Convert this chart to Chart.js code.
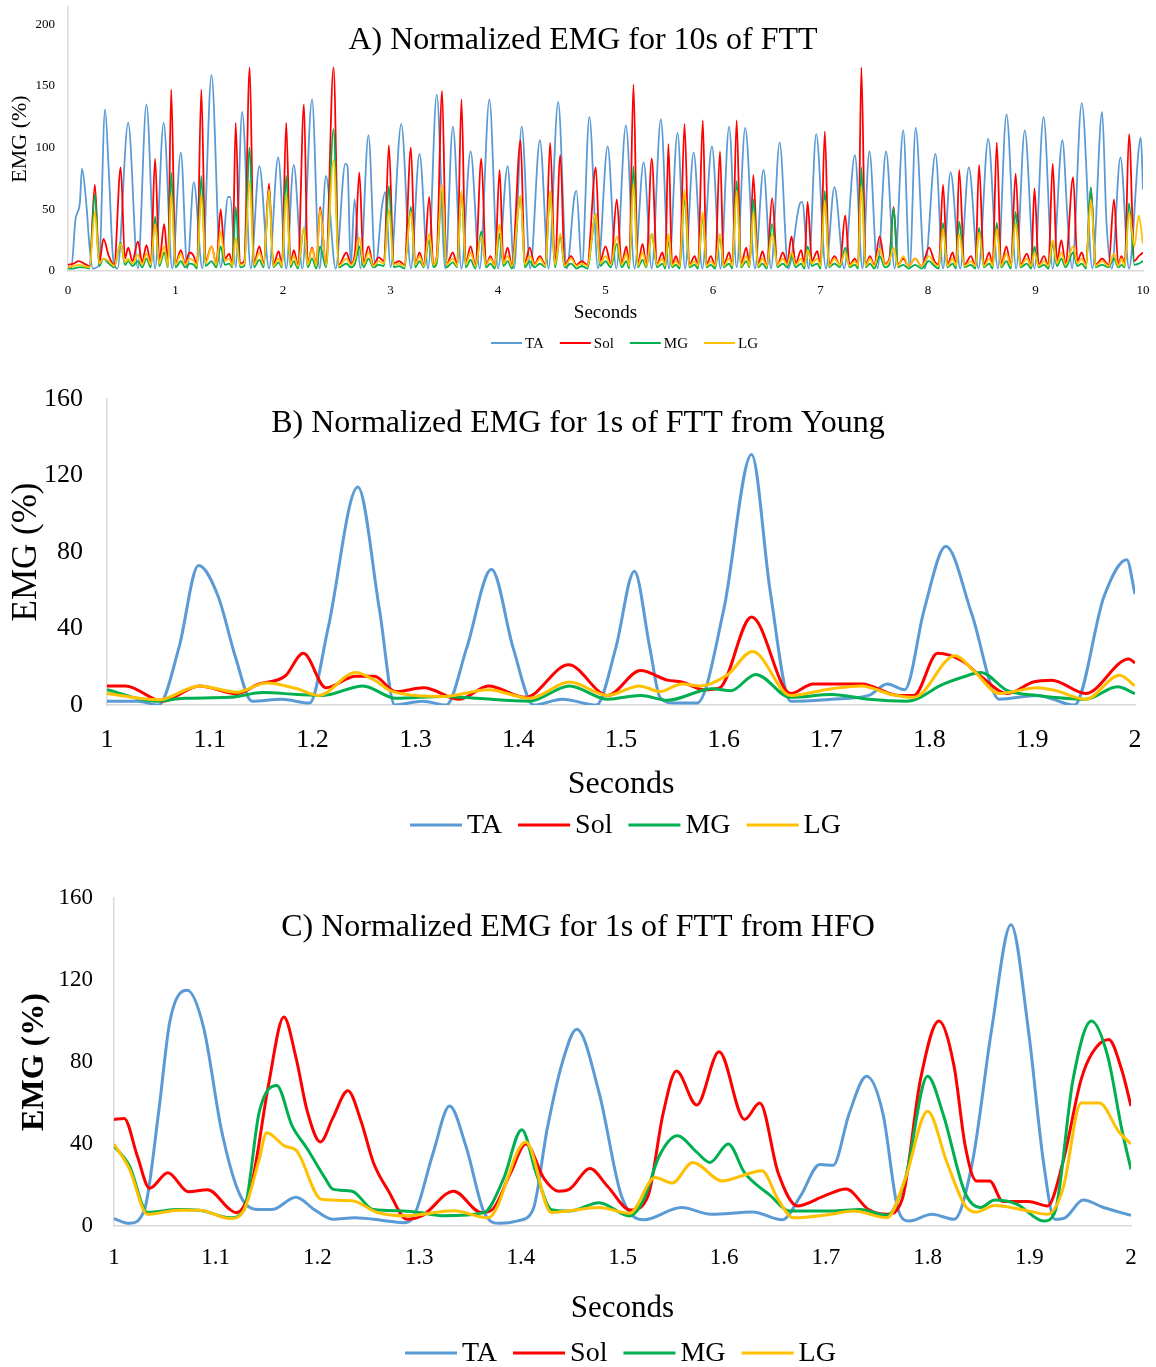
<!DOCTYPE html>
<html>
<head>
<meta charset="utf-8">
<title>Normalized EMG during FTT</title>
<script src="https://cdn.jsdelivr.net/npm/chart.js@4.4.1/dist/chart.umd.min.js"></script>
<style>
  html, body { margin: 0; padding: 0; background: #fff; overflow: hidden; }
  .panel { position: absolute; left: 0; width: 1156px; }
</style>
</head>
<body>
<div class="panel" style="top:0px;height:360px"><canvas id="chartA" width="1156" height="360"></canvas></div>
<div class="panel" style="top:380px;height:470px"><canvas id="chartB" width="1156" height="470"></canvas></div>
<div class="panel" style="top:880px;height:487px"><canvas id="chartC" width="1156" height="487"></canvas></div>
<script>
// ---- Panel A : 10 s of FTT (peaks and troughs) ----
const taA = [
  [0,4],[0.03,2],[0.07,42],[0.11,55],[0.13,83],[0.17,55],[0.20,20],[0.23,2],[0.29,5],[0.345,131],[0.38,80],[0.42,10],[0.46,2],[0.56,120],[0.65,2],[0.73,135],[0.81,2],[0.89,120],[0.97,2],
  [1.05,96],[1.11,2],[1.17,72],[1.25,2],[1.335,159],[1.42,3],[1.49,60],[1.51,60],[1.56,3],[1.62,129],[1.70,2],[1.78,85],[1.87,2],[1.955,92],
  [2.03,2],[2.10,86],[2.18,2],[2.27,139],[2.34,2],[2.40,77],[2.49,2],[2.58,87],[2.60,85],[2.63,3],[2.665,58],[2.72,2],[2.795,110],[2.86,3],[2.92,52],[2.95,64],
  [3.00,3],[3.10,119],[3.19,2],[3.27,95],[3.35,2],[3.43,143],[3.51,2],[3.58,117],[3.66,2],[3.745,97],[3.83,2],[3.92,139],
  [4.00,2],[4.09,85],[4.15,2],[4.22,117],[4.30,2],[4.39,106],[4.47,2],[4.56,137],[4.64,2],[4.71,60],[4.73,65],[4.78,3],[4.85,125],[4.93,2],
  [5.02,101],[5.10,2],[5.19,118],[5.27,2],[5.355,88],[5.43,2],[5.515,123],[5.59,2],[5.67,112],[5.74,2],[5.82,96],[5.90,2],[5.99,101],
  [6.07,2],[6.15,117],[6.22,3],[6.30,116],[6.39,2],[6.47,82],[6.54,2],[6.62,104],[6.70,2],[6.81,55],[6.83,56],[6.89,2],[6.96,111],
  [7.05,2],[7.13,68],[7.22,2],[7.32,94],[7.39,2],[7.455,97],[7.53,2],[7.61,97],[7.69,2],[7.77,114],[7.83,3],[7.885,116],[7.97,2],
  [8.07,95],[8.14,2],[8.21,80],[8.30,2],[8.38,84],[8.47,2],[8.56,107],[8.65,2],[8.73,127],[8.82,2],[8.90,114],[8.99,2],
  [9.075,125],[9.16,2],[9.25,106],[9.30,40],[9.34,2],[9.43,136],[9.53,2],[9.62,129],[9.66,40],[9.71,2],[9.79,92],[9.87,2],[9.98,108],[10.0,66]
];

// shared time points for Sol / MG / LG in panel A
const calfTimesA = [
  0, 0.05, 0.10, 0.15, 0.20, 0.25, 0.29, 0.33, 0.38, 0.43, 0.49, 0.53, 0.56, 0.60, 0.65, 0.69, 0.73, 0.77, 0.81, 0.85, 0.895, 0.93, 0.96,
  1.00, 1.05, 1.09, 1.13, 1.17, 1.20, 1.24, 1.28, 1.335, 1.38, 1.42, 1.46, 1.50, 1.53, 1.56, 1.60, 1.64, 1.69, 1.73, 1.78, 1.82, 1.87, 1.91, 1.96, 1.99,
  2.03, 2.07, 2.10, 2.14, 2.195, 2.23, 2.27, 2.31, 2.345, 2.40, 2.47, 2.52, 2.59, 2.63, 2.67, 2.71, 2.75, 2.795, 2.84, 2.89, 2.94, 2.985,
  3.03, 3.08, 3.13, 3.19, 3.23, 3.27, 3.31, 3.36, 3.40, 3.43, 3.48, 3.52, 3.58, 3.62, 3.66, 3.70, 3.745, 3.79, 3.845, 3.89, 3.93, 3.97,
  4.015, 4.05, 4.09, 4.13, 4.21, 4.25, 4.295, 4.34, 4.39, 4.44, 4.485, 4.53, 4.58, 4.62, 4.68, 4.73, 4.78, 4.83, 4.91, 4.95,
  5.00, 5.05, 5.105, 5.15, 5.195, 5.22, 5.26, 5.30, 5.345, 5.38, 5.43, 5.48, 5.53, 5.555, 5.585, 5.62, 5.655, 5.69, 5.735, 5.78, 5.83, 5.86, 5.905, 5.94, 5.98,
  6.02, 6.065, 6.10, 6.15, 6.18, 6.22, 6.26, 6.31, 6.34, 6.375, 6.42, 6.46, 6.50, 6.55, 6.60, 6.65, 6.69, 6.73, 6.77, 6.82, 6.85, 6.88, 6.92, 6.97,
  7.00, 7.04, 7.08, 7.13, 7.18, 7.23, 7.27, 7.32, 7.35, 7.38, 7.42, 7.46, 7.50, 7.55, 7.60, 7.64, 7.68, 7.72, 7.77, 7.82, 7.88, 7.94,
  8.01, 8.06, 8.10, 8.14, 8.18, 8.23, 8.26, 8.29, 8.34, 8.40, 8.44, 8.475, 8.52, 8.57, 8.60, 8.64, 8.68, 8.73, 8.77, 8.815, 8.86, 8.92, 8.96, 8.99,
  9.03, 9.08, 9.12, 9.16, 9.20, 9.24, 9.28, 9.35, 9.39, 9.43, 9.47, 9.515, 9.56, 9.62, 9.68, 9.73, 9.77, 9.80, 9.83, 9.87, 9.92, 9.96, 10.0
];
const solA = [
  5,6,8,6,4, 70,6,26,12,5, 84,10,19,8,24, 7,21,6,91,8, 38,5,147,
  6,17,6,15,12, 4,147,8,20,6, 50,10,14,5,120, 6,8,165,6,20, 6,71,5,16,5,
  120,6,17,5,135, 6,19,5,52,6, 165,5,15,6,15, 80,6,20,5,11, 8,102,
  6,8,5,100,5, 15,5,60,5,12, 146,5,15,5,139, 6,20,5,91,5, 12,4,
  82,8,19,4,106, 6,19,6,12,5, 104,6,94,5,12, 5,8,5,84,8,
  20,6,58,6,20, 5,151,5,22,5, 91,6,15,5,103, 5,12,4,119,5, 12,4,122,5,12,
  4,97,5,15,4, 122,5,19,5,78, 5,16,4,59,5, 15,6,28,6,17, 5,56,8,16,
  4,113,5,12,5, 45,5,10,4,165, 5,12,5,28,6, 10,52,5,10,4, 10,4,
  19,8,5,70,5, 15,4,82,5,12, 4,86,5,15,4, 104,5,20,4,79, 5,14,4,67,
  5,12,4,87,8, 25,6,76,8,15, 5,67,5,10,5, 58,5,12,5,111, 8,12,15
];
const mgA = [
  2,2,3,3,2, 62,4,10,6,3, 23,5,8,4,8, 3,10,3,44,4, 15,3,80,
  3,8,3,6,5, 2,77,4,8,3, 20,5,6,3,52, 3,4,100,3,9, 3,66,3,7,3,
  77,3,8,2,35, 3,10,2,20,3, 115,3,6,3,6, 20,3,10,3,5, 4,69,
  3,4,2,52,3, 8,3,25,3,6, 68,3,7,3,64, 3,9,2,32,3, 6,2,
  30,4,8,2,60, 3,8,3,6,3, 64,3,28,3,6, 2,4,2,46,4,
  8,3,22,3,8, 2,85,3,9,3, 30,3,6,2,25, 3,5,2,60,3, 5,2,45,3,5,
  2,28,3,6,2, 73,3,8,3,58, 3,6,2,38,3, 6,3,12,3,6, 2,20,4,6,
  2,65,3,6,3, 19,3,5,2,84, 3,6,2,12,3, 5,51,3,5,2, 5,2,
  8,4,2,39,3, 6,2,40,3,5, 2,35,3,6,2, 39,3,8,2,48, 3,6,2,20,
  3,5,2,22,4, 10,3,15,4,6, 2,68,3,5,3, 10,3,5,3,55, 5,6,8
];
const lgA = [
  3,4,5,4,3, 48,6,10,8,4, 22,7,10,6,13, 5,14,5,38,6, 20,4,63,
  5,14,5,10,8, 4,62,6,20,5, 32,8,10,4,27, 5,6,73,5,15, 5,66,4,10,4,
  63,5,12,4,35, 5,18,4,50,5, 90,4,10,5,10, 27,5,15,4,8, 6,50,
  5,6,4,48,5, 12,4,30,5,10, 70,5,10,4,65, 5,15,4,28,5, 10,4,
  38,6,12,4,61, 5,12,5,10,4, 65,5,30,4,10, 4,6,4,46,6,
  12,5,28,5,14, 4,71,4,15,4, 30,5,10,4,30, 4,8,4,66,4, 8,4,48,4,8,
  4,30,4,10,4, 65,4,12,4,48, 4,10,4,30,5, 10,5,15,5,10, 4,17,6,10,
  4,57,4,10,5, 15,4,8,4,69, 4,10,4,18,5, 8,19,4,12,4, 10,4,
  12,6,4,34,4, 10,4,30,4,8, 4,31,4,10,4, 34,4,14,4,39, 4,10,4,15,
  4,8,4,25,6, 15,5,20,6,10, 4,58,4,8,4, 14,4,10,4,47, 20,45,22
];

// ---- Panel B : 1 s of FTT, young subject ----
const taB = [[1.00,2],[1.03,2],[1.05,0],[1.07,30],[1.089,73],[1.108,57],[1.125,25],[1.141,2],[1.17,3],[1.197,1],[1.215,40],[1.244,114],[1.265,50],[1.28,0],[1.307,2],[1.33,0],[1.35,30],[1.374,71],[1.395,30],[1.415,0],[1.443,3],[1.476,0],[1.495,30],[1.513,70],[1.528,30],[1.538,4],[1.552,1],[1.574,1],[1.60,50],[1.627,131],[1.645,60],[1.665,2],[1.705,3],[1.741,5],[1.759,11],[1.776,8],[1.795,50],[1.816,83],[1.841,48],[1.868,3],[1.905,5],[1.941,0],[1.970,57],[1.992,76],[2.0,58]];
const solB = [[1.00,10],[1.018,10],[1.054,2],[1.09,10],[1.126,6],[1.148,11],[1.173,15],[1.191,27],[1.213,9],[1.242,15],[1.26,15],[1.281,7],[1.308,9],[1.343,3],[1.371,10],[1.407,4],[1.449,21],[1.487,5],[1.519,18],[1.545,13],[1.559,12],[1.581,8],[1.596,9],[1.627,46],[1.665,6],[1.687,11],[1.734,11],[1.77,5],[1.785,5],[1.808,27],[1.832,23],[1.85,15],[1.876,6],[1.901,12],[1.919,13],[1.952,6],[1.994,24],[2.0,22]];
const mgB = [[1.0,8],[1.047,2],[1.075,3.5],[1.119,4],[1.152,6.5],[1.185,5.5],[1.21,5],[1.249,10],[1.281,3.5],[1.328,4.5],[1.36,3.5],[1.411,2],[1.45,10],[1.487,3],[1.519,5],[1.545,2.5],[1.589,8.5],[1.607,7.5],[1.631,16],[1.665,4],[1.705,5.5],[1.741,3],[1.778,2],[1.814,11],[1.832,14.5],[1.85,17],[1.876,7.5],[1.905,5],[1.952,3],[1.983,9.5],[2.0,6]];
const lgB = [[1.0,6],[1.05,2.7],[1.09,10],[1.126,6.7],[1.155,11.5],[1.185,8.5],[1.206,5],[1.242,17],[1.26,13],[1.278,7],[1.328,4.5],[1.371,8],[1.411,3.5],[1.45,12],[1.487,5],[1.518,10],[1.538,7],[1.559,11],[1.577,10],[1.603,15.5],[1.628,28],[1.665,5],[1.705,8.5],[1.734,10],[1.763,5.5],[1.785,4],[1.825,25.7],[1.843,18],[1.868,6],[1.905,9],[1.923,7.5],[1.952,3],[1.985,15.5],[2.0,10]];

// ---- Panel C : 1 s of FTT, HFO subject ----
const taC = [[1.0,3.6],[1.015,1.3],[1.03,8],[1.044,56],[1.055,100],[1.072,115],[1.088,97],[1.106,46],[1.124,15],[1.143,8],[1.155,8],[1.179,14],[1.197,8],[1.215,3.3],[1.237,4],[1.263,2.8],[1.284,1.6],[1.295,5],[1.314,36],[1.33,58.5],[1.346,39],[1.364,6.6],[1.379,1.3],[1.397,2.5],[1.412,8],[1.426,47.5],[1.441,80],[1.455,96],[1.477,65],[1.499,14.6],[1.521,3],[1.558,9],[1.587,5.7],[1.628,6.8],[1.657,3],[1.675,14.6],[1.694,30],[1.707,29.6],[1.723,55],[1.74,73],[1.756,55],[1.771,8],[1.782,2.4],[1.804,5.7],[1.826,3.3],[1.844,31],[1.863,96],[1.882,147],[1.899,96],[1.914,31],[1.925,3.3],[1.935,4],[1.953,12.7],[1.973,9],[2.0,5.2]];
const solC = [[1.0,52],[1.01,52.5],[1.023,34],[1.035,18.4],[1.053,26],[1.073,16.7],[1.092,17.7],[1.114,8],[1.12,6.5],[1.135,19.7],[1.152,69],[1.167,102],[1.179,82],[1.19,56],[1.203,41],[1.215,52.5],[1.23,66],[1.243,51],[1.255,31],[1.27,17],[1.288,3.3],[1.303,5],[1.334,17],[1.361,6.6],[1.372,8],[1.39,26],[1.405,40],[1.423,23],[1.437,17],[1.448,18],[1.468,28],[1.485,19.5],[1.508,7.8],[1.525,14.6],[1.54,55],[1.553,75.6],[1.573,59],[1.595,85],[1.62,52],[1.635,60],[1.653,26],[1.672,9.8],[1.698,14.6],[1.72,18],[1.742,8],[1.76,5.7],[1.775,13],[1.793,71.5],[1.811,100],[1.826,78],[1.837,39],[1.848,22],[1.861,22],[1.874,12],[1.899,12],[1.918,9.8],[1.933,31],[1.951,71.5],[1.962,84.5],[1.978,91],[1.991,76],[2.0,58.5]];
const mgC = [[1.0,39],[1.015,29.5],[1.033,6.6],[1.063,8],[1.084,7.7],[1.114,4],[1.128,8],[1.143,56],[1.16,68.5],[1.175,49],[1.19,37.7],[1.208,23],[1.215,18],[1.234,17],[1.255,8],[1.281,7.4],[1.30,6.6],[1.324,5],[1.364,6.6],[1.383,23],[1.401,47],[1.415,26],[1.43,8],[1.448,7.3],[1.477,11.4],[1.507,4.9],[1.521,13],[1.536,34],[1.554,44],[1.573,36],[1.586,31],[1.604,40],[1.62,26],[1.646,14.6],[1.664,7.3],[1.705,7.3],[1.734,8],[1.76,5.2],[1.778,23],[1.8,73],[1.815,55],[1.837,16],[1.852,9],[1.866,12.7],[1.888,10.6],[1.914,2.4],[1.925,6.5],[1.943,71.5],[1.961,100],[1.977,83],[1.991,47],[2.0,27.6]];
const lgC = [[1.0,40],[1.015,28],[1.033,5.7],[1.063,7.7],[1.084,7.7],[1.114,3.6],[1.128,8],[1.143,33],[1.15,45.5],[1.168,39],[1.179,37],[1.204,13],[1.234,12.3],[1.259,6.6],[1.288,5],[1.334,7.4],[1.368,4],[1.405,41],[1.43,6.6],[1.477,9],[1.507,6.2],[1.532,23.6],[1.549,21],[1.569,31],[1.598,22],[1.617,24.4],[1.637,27],[1.653,13],[1.668,4],[1.705,5.7],[1.727,7.3],[1.76,4],[1.778,23],[1.8,56],[1.819,31],[1.837,9.8],[1.848,6.8],[1.866,10],[1.899,7.3],[1.918,5.7],[1.933,18],[1.951,60],[1.969,60],[1.988,46],[2.0,40]];

const muscleLabels = ['TA', 'Sol', 'MG', 'LG'];
const muscleColors = ['#5B9BD5', '#FF0000', '#00B050', '#FFC000'];
const SERIF = "'Liberation Serif', 'Times New Roman', serif";

function fromPairs(list) {
    return list.map(p => ({ x: p[0], y: p[1] }));
}
function fromColumns(times, values) {
    return times.map((t, i) => ({ x: t, y: values[i] }));
}

// titre du panneau + légende dessinés à une position fixe
const panelText = {
    id: 'panelText',
    afterDraw(chart, args, opts) {
        const ctx = chart.ctx;
        ctx.save();
        ctx.fillStyle = '#000';
        ctx.textBaseline = 'middle';
        ctx.textAlign = 'center';
        ctx.font = opts.titleFont;
        ctx.fillText(opts.title, opts.titleX, opts.titleY);

        ctx.textAlign = 'left';
        ctx.font = opts.legendFont;
        let x = opts.legendX;
        chart.data.datasets.forEach(ds => {
            ctx.strokeStyle = ds.borderColor;
            ctx.lineWidth = opts.legendLine;
            ctx.beginPath();
            ctx.moveTo(x, opts.legendY);
            ctx.lineTo(x + opts.lineLen, opts.legendY);
            ctx.stroke();
            x += opts.lineLen + opts.gap;
            ctx.fillText(ds.label, x, opts.legendY + 1);
            x += ctx.measureText(ds.label).width + opts.spacing;
        });
        ctx.restore();
    }
};

function buildPanel(id, p) {
    const canvas = document.getElementById(id);
    const H = canvas.height;
    const datasets = p.series.map((data, i) => ({
        label: muscleLabels[i],
        data: data,
        borderColor: muscleColors[i],
        backgroundColor: muscleColors[i],
        borderWidth: p.lineWidth,
        pointRadius: 0,
        cubicInterpolationMode: 'monotone',
        order: 4 - i
    }));
    return new Chart(canvas, {
        type: 'line',
        data: { datasets },
        plugins: [panelText],
        options: {
            responsive: false,
            animation: false,
            layout: { padding: { top: p.top, right: 1156 - p.right, bottom: 0, left: 0 } },
            scales: {
                x: {
                    type: 'linear',
                    min: p.xMin, max: p.xMax,
                    grid: { display: false, drawTicks: false },
                    border: { display: true, color: '#d9d9d9', width: 1.5 },
                    ticks: {
                        stepSize: p.xStep, padding: p.xPad, color: '#000', maxRotation: 0, autoSkip: false,
                        font: { family: SERIF, size: p.tickSize },
                        callback: v => String(Math.round(v * 10) / 10)
                    },
                    title: {
                        display: true, text: 'Seconds', color: '#000',
                        font: { family: SERIF, size: p.xTitleSize },
                        padding: { top: 0, bottom: p.xTitlePad }
                    },
                    afterFit: s => {
                        s.height = H - p.bottom;
                        s.paddingLeft = 0; s.paddingRight = 0;
                    }
                },
                y: {
                    min: 0, max: p.yMax,
                    grid: { display: false, drawTicks: false },
                    border: { display: true, color: '#d9d9d9', width: 1.5 },
                    ticks: {
                        stepSize: p.yStep, padding: p.yPad, color: '#000',
                        font: { family: SERIF, size: p.tickSize }
                    },
                    afterBuildTicks: s => { s.ticks = s.ticks.filter(t => t.value % p.yStep === 0); },
                    title: {
                        display: true, text: 'EMG (%)', color: '#000',
                        font: { family: SERIF, size: p.yTitleSize, weight: p.yTitleWeight },
                        padding: { top: p.yTitlePad, bottom: 0 }
                    },
                    afterFit: s => {
                        s.width = p.left;
                        s.paddingTop = 0; s.paddingBottom = 0;
                    }
                }
            },
            plugins: {
                legend: { display: false },
                tooltip: { enabled: false },
                panelText: p.text
            }
        }
    });
}

buildPanel('chartA', {
    series: [fromPairs(taA), fromColumns(calfTimesA, solA), fromColumns(calfTimesA, mgA), fromColumns(calfTimesA, lgA)],
    lineWidth: 1.8,
    left: 68, right: 1143, top: 7, bottom: 271,
    xMin: 0, xMax: 10, xStep: 1, yMax: 214, yStep: 50,
    tickSize: 13, xPad: 12, yPad: 13,
    xTitleSize: 19, xTitlePad: 36,
    yTitleSize: 22, yTitleWeight: 'normal', yTitlePad: 7,
    text: {
        title: 'A) Normalized EMG for 10s of FTT', titleFont: '32px ' + SERIF, titleX: 583, titleY: 41,
        legendFont: '15px ' + SERIF, legendX: 491, legendY: 343, lineLen: 31, gap: 3, spacing: 16, legendLine: 2
    }
});

buildPanel('chartB', {
    series: [fromPairs(taB), fromPairs(solB), fromPairs(mgB), fromPairs(lgB)],
    lineWidth: 3,
    left: 107, right: 1135, top: 19, bottom: 325,
    xMin: 1, xMax: 2, xStep: 0.1, yMax: 160, yStep: 40,
    tickSize: 26, xPad: 20, yPad: 24,
    xTitleSize: 32, xTitlePad: 46,
    yTitleSize: 35, yTitleWeight: 'normal', yTitlePad: 6,
    text: {
        title: 'B) Normalized EMG for 1s of FTT from Young', titleFont: '32px ' + SERIF, titleX: 578, titleY: 44,
        legendFont: '28px ' + SERIF, legendX: 410, legendY: 445, lineLen: 52, gap: 5, spacing: 16, legendLine: 3
    }
});

buildPanel('chartC', {
    series: [fromPairs(taC), fromPairs(solC), fromPairs(mgC), fromPairs(lgC)],
    lineWidth: 3,
    left: 114, right: 1131, top: 18, bottom: 346,
    xMin: 1, xMax: 2, xStep: 0.1, yMax: 160, yStep: 40,
    tickSize: 23, xPad: 18, yPad: 21,
    xTitleSize: 31, xTitlePad: 40,
    yTitleSize: 32, yTitleWeight: 'bold', yTitlePad: 16,
    text: {
        title: 'C) Normalized EMG for 1s of FTT from HFO', titleFont: '32px ' + SERIF, titleX: 578, titleY: 48,
        legendFont: '28px ' + SERIF, legendX: 405, legendY: 473, lineLen: 52, gap: 5, spacing: 16, legendLine: 3
    }
});
</script>
</body>
</html>
